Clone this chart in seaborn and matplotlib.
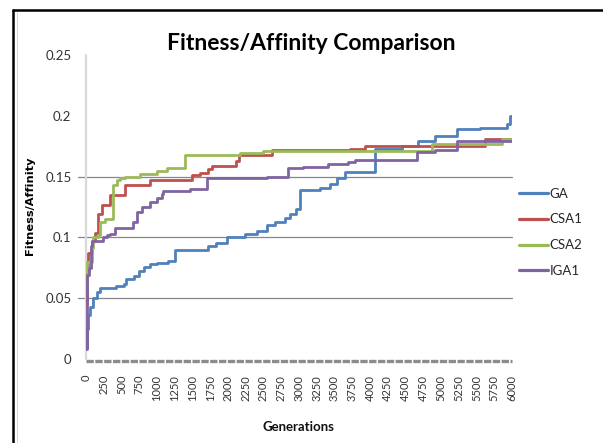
import numpy as np
import pandas as pd
import seaborn as sns
import matplotlib
matplotlib.use("Agg")
import matplotlib.pyplot as plt
from matplotlib.lines import Line2D

# ---------------- data ----------------
ga_gen = [0, 15, 30, 60, 100, 150, 200, 420, 530, 570, 680, 750, 810, 900, 1000,
          1150, 1255, 1720, 1830, 1990, 2240, 2404, 2545, 2662, 2803, 2873, 2960,
          3014, 3296, 3437, 3531, 3648, 4075, 4446, 4681, 4915, 5221, 5549, 5930,
          5975, 6000]
ga_val = [0.009, 0.025, 0.036, 0.043, 0.050, 0.055, 0.058, 0.060, 0.062, 0.066, 0.068,
          0.072, 0.076, 0.078, 0.079, 0.081, 0.090, 0.093, 0.095, 0.100, 0.103, 0.105,
          0.110, 0.113, 0.116, 0.119, 0.123, 0.139, 0.141, 0.144, 0.149, 0.154, 0.173,
          0.175, 0.179, 0.183, 0.189, 0.190, 0.193, 0.200, 0.200]

csa1_gen = [0, 15, 35, 80, 127, 174, 220, 338, 549, 901, 1490, 1606, 1723, 1770,
            2110, 2150, 2615, 3718, 3930, 5620, 6000]
csa1_val = [0.045, 0.069, 0.087, 0.097, 0.104, 0.119, 0.127, 0.135, 0.143, 0.147,
            0.151, 0.153, 0.156, 0.159, 0.163, 0.168, 0.172, 0.173, 0.175, 0.181, 0.181]

csa2_gen = [0, 20, 80, 103, 174, 197, 268, 385, 432, 479, 549, 761, 995, 1136, 1394,
            2169, 2498, 4869, 5854, 6000]
csa2_val = [0.055, 0.080, 0.091, 0.100, 0.102, 0.113, 0.115, 0.143, 0.147, 0.149,
            0.150, 0.152, 0.155, 0.157, 0.168, 0.169, 0.171, 0.177, 0.181, 0.181]

iga1_gen = [0, 20, 45, 70, 90, 244, 291, 338, 408, 667, 714, 784, 901, 995, 1066,
            1089, 1465, 1700, 2545, 2850, 3060, 3414, 3695, 3790, 4657, 4915, 5221, 6000]
iga1_val = [0.008, 0.069, 0.075, 0.093, 0.097, 0.100, 0.102, 0.103, 0.108, 0.113,
            0.121, 0.125, 0.129, 0.132, 0.136, 0.138, 0.140, 0.149, 0.150, 0.157,
            0.158, 0.160, 0.162, 0.164, 0.170, 0.172, 0.179, 0.179]

series_names = ["GA", "CSA1", "CSA2", "IGA1"]
series_colors = ["#4F81BD", "#C0504D", "#9BBB59", "#8064A2"]
x_ticks = list(range(0, 6001, 250))
y_ticks = [0, 0.05, 0.1, 0.15, 0.2, 0.25]
y_tick_labels = ["0", "0.05", "0.1", "0.15", "0.2", "0.25"]
grid_levels = [0.05, 0.1, 0.15]

# ---------------- build table ----------------
frames = []
for name, g, v in zip(series_names,
                      [ga_gen, csa1_gen, csa2_gen, iga1_gen],
                      [ga_val, csa1_val, csa2_val, iga1_val]):
    frames.append(pd.DataFrame({"Generations": g, "Fitness": v, "Series": name}))
df = pd.concat(frames, ignore_index=True)

# ---------------- figure ----------------
sns.set_style("white")
plt.rcParams["font.family"] = ["Lato", "DejaVu Sans"]

W, H = 603, 443
fig = plt.figure(figsize=(W / 100, H / 100), dpi=100)
ax = fig.add_axes([86 / W, 1 - 359 / H, (512 - 86) / W, (359 - 55) / H])

# gridlines (extend a bit to the left like tick marks)
for gy in grid_levels:
    ax.plot([-0.019, 1.0], [gy, gy], transform=ax.get_yaxis_transform(),
            color="#878787", lw=0.9, clip_on=False, zorder=1)

# left axis line
ax.plot([0, 0], [0, 1], transform=ax.transAxes, color="#D9D9D9", lw=1.6,
        clip_on=False, zorder=1)

sns.lineplot(data=df, x="Generations", y="Fitness", hue="Series",
             hue_order=series_names, palette=series_colors,
             estimator=None, errorbar=None, sort=True,
             drawstyle="steps-post", lw=2.0, legend=False, ax=ax, zorder=3)

# dashed zero line
ax.plot([0, 1], [-0.0015, -0.0015], transform=ax.get_yaxis_transform(), color="#8C8C8C",
        lw=2.4, dashes=(2.2, 0.45), solid_capstyle="butt", dash_capstyle="butt",
        clip_on=False, zorder=2)

ax.set_xlim(0, 6000)
ax.set_ylim(0, 0.25)
for s in ax.spines.values():
    s.set_visible(False)
ax.set_xticks(x_ticks)
ax.set_xticklabels([str(t) for t in x_ticks], rotation=90, fontsize=8.0,
                   color="#333333")
ax.set_yticks(y_ticks)
ax.set_yticklabels(y_tick_labels, fontsize=9.5, color="#333333")
ax.tick_params(axis="both", length=0)
ax.tick_params(axis="y", pad=10.5)
ax.tick_params(axis="x", pad=11.5)
ax.set_xlabel("")
ax.set_ylabel("")
ax.grid(False)

# titles
fig.text(311 / W, 1 - 50 / H, "Fitness/Affinity Comparison", ha="center",
         va="baseline", fontsize=16.5, fontweight="bold", color="#000000")
fig.text(30 / W, 1 - 206 / H, "Fitness/Affinity", ha="center", va="center",
         rotation=90, fontsize=8.2, fontweight="bold",
         family=["DejaVu Sans"], color="#000000")
fig.text(298 / W, 1 - 431 / H, "Generations", ha="center", va="baseline",
         fontsize=9.5, fontweight="bold", color="#111111")

# legend
handles = [Line2D([0], [0], color=c, lw=2.3) for c in series_colors]
fig.legend(handles, series_names, loc="upper left",
           bbox_to_anchor=(519 / W, 1 - 187.5 / H), frameon=False,
           fontsize=9.5, borderpad=0, borderaxespad=0, handlelength=2.2,
           handletextpad=0.12, labelspacing=1.05)

# outer frame (only left and top are visible in the reference)
fig.add_artist(Line2D([13 / W, 13 / W], [0, 1 - 10 / H], color="black", lw=1.8,
                      transform=fig.transFigure))
fig.add_artist(Line2D([13 / W, 1], [1 - 10 / H, 1 - 10 / H], color="black", lw=1.8,
                      transform=fig.transFigure))
fig.add_artist(Line2D([16.5 / W, 16.5 / W], [0, 1 - 12 / H], color="#CFCFCF", lw=0.6,
                      transform=fig.transFigure))

fig.savefig("out.png", dpi=100, facecolor="white")
